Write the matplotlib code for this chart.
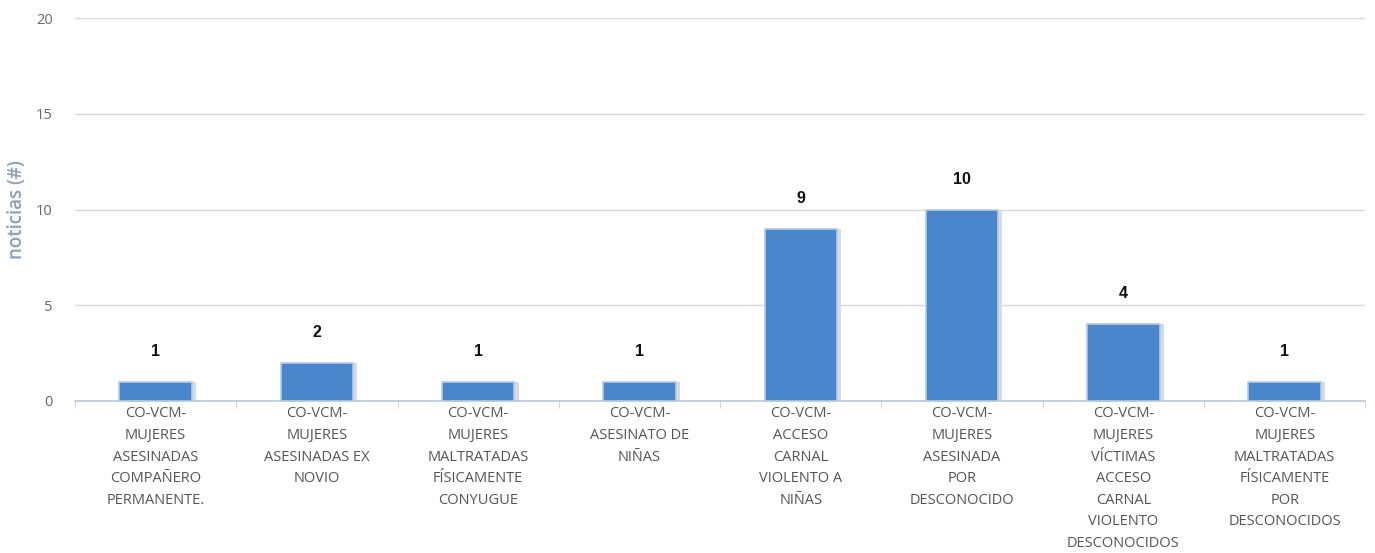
import numpy as np
import matplotlib
matplotlib.use("Agg")
import matplotlib.pyplot as plt

# Datos
categorias = [
    "CO-VCM-\nMUJERES\nASESINADAS\nCOMPAÑERO\nPERMANENTE.",
    "CO-VCM-\nMUJERES\nASESINADAS EX\nNOVIO",
    "CO-VCM-\nMUJERES\nMALTRATADAS\nFÍSICAMENTE\nCONYUGUE",
    "CO-VCM-\nASESINATO DE\nNIÑAS",
    "CO-VCM-\nACCESO\nCARNAL\nVIOLENTO A\nNIÑAS",
    "CO-VCM-\nMUJERES\nASESINADA\nPOR\nDESCONOCIDO",
    "CO-VCM-\nMUJERES\nVÍCTIMAS\nACCESO\nCARNAL\nVIOLENTO\nDESCONOCIDOS",
    "CO-VCM-\nMUJERES\nMALTRATADAS\nFÍSICAMENTE\nPOR\nDESCONOCIDOS",
]
noticias = [1, 2, 1, 1, 9, 10, 4, 1]
y_ticks = [0, 5, 10, 15, 20]

plt.rcParams['font.family'] = ['Open Sans', 'DejaVu Sans']

fig = plt.figure(figsize=(13.75, 5.53), dpi=100)
ax = fig.add_axes([0.0545, 0.275, 0.9385, 0.692])

x = np.arange(len(noticias))
ancho = 0.45

# sombra de las barras
ax.bar(x + 0.025, noticias, width=ancho, color='#dadada', zorder=2)
ax.bar(x, noticias, width=ancho, color='#4a86cc', edgecolor='#b3cbea',
       linewidth=1.2, zorder=3)

for xi, v in zip(x, noticias):
    ax.annotate(str(v), (xi, v), xytext=(0, 22), textcoords='offset points',
                ha='center', va='center', fontsize=11.5, fontweight='bold',
                family=['Liberation Sans', 'DejaVu Sans'], color='#111111')

ax.set_xlim(-0.5, len(noticias) - 0.5)
ax.set_ylim(0, 20)
ax.set_yticks(y_ticks)
ax.set_xticks(x)
ax.set_xticklabels(categorias, fontsize=10.5, color='#555555', linespacing=1.6)
ax.set_xticks(np.arange(len(noticias) + 1) - 0.5, minor=True)
ax.tick_params(axis='x', which='major', length=0, pad=4)
ax.tick_params(axis='x', which='minor', length=5, color='#cccccc')
ax.tick_params(axis='y', length=0, labelsize=10.5, labelcolor='#666666', pad=16)

ax.grid(axis='y', color='#d8d8d8', linewidth=1, zorder=0)
ax.set_axisbelow(True)
for s in ['top', 'right', 'left']:
    ax.spines[s].set_visible(False)
ax.spines['bottom'].set_color('#b8c8d8')
ax.spines['bottom'].set_linewidth(1.2)

ax.set_ylabel("noticias (#)", fontsize=13.5, fontweight='semibold', color='#8da2b5')
ax.yaxis.set_label_coords(-0.037, 0.5)

fig.savefig("out.png", dpi=100)
